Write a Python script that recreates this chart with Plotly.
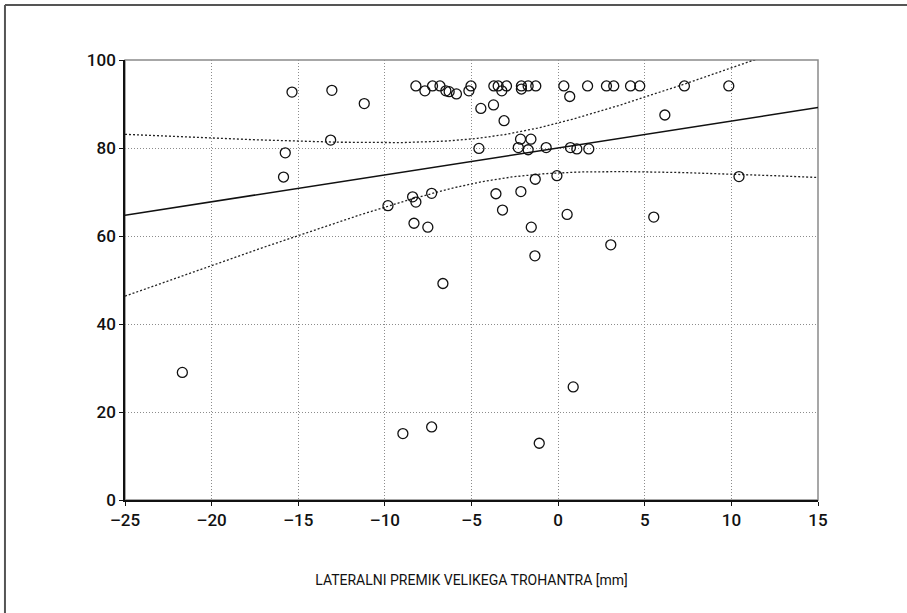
import numpy as np
import plotly.graph_objects as go

# Data
x_mm = [-21.69, -15.85, -15.75, -15.36, -13.13, -13.06, -11.19, -9.82, -8.96, -8.40,
        -8.32, -8.21, -8.21, -7.69, -7.52, -7.30, -7.30, -7.25, -6.82, -6.65,
        -6.48, -6.29, -5.87, -5.15, -5.03, -4.57, -4.46, -3.73, -3.71, -3.59,
        -3.46, -3.25, -3.21, -3.12, -2.98, -2.30, -2.17, -2.15, -2.12, -2.12,
        -1.73, -1.73, -1.57, -1.55, -1.34, -1.32, -1.29, -1.09, -0.69, -0.07,
        0.33, 0.52, 0.67, 0.71, 0.87, 1.08, 1.70, 1.77, 2.79, 3.04,
        3.21, 4.18, 4.71, 5.52, 6.16, 7.29, 9.85, 10.44]
y_val = [29.0, 73.4, 78.9, 92.7, 81.8, 93.1, 90.1, 66.9, 15.1, 68.9,
         62.9, 67.7, 94.1, 93.0, 62.0, 69.7, 16.6, 94.1, 94.1, 49.2,
         93.0, 92.8, 92.3, 93.0, 94.1, 79.9, 89.0, 89.8, 94.1, 69.6,
         94.1, 93.0, 65.9, 86.2, 94.1, 80.1, 82.0, 70.1, 94.1, 93.4,
         94.1, 79.6, 82.0, 62.0, 55.5, 72.9, 94.1, 12.9, 80.1, 73.7,
         94.1, 64.9, 91.7, 80.1, 25.7, 79.8, 94.1, 79.8, 94.1, 58.0,
         94.1, 94.1, 94.1, 64.3, 87.5, 94.1, 94.1, 73.5]

x_ticks = [-25, -20, -15, -10, -5, 0, 5, 10, 15]
y_ticks = [0, 20, 40, 60, 80, 100]
x_title = "LATERALNI PREMIK VELIKEGA TROHANTRA [mm]"
T_CRIT = 1.997  # 95 % two-sided, df = n - 2

# Linear regression with 95 % confidence band for the mean
x = np.array(x_mm)
y = np.array(y_val)
n = len(x)
slope, intercept = np.polyfit(x, y, 1)
resid = y - (intercept + slope * x)
s = np.sqrt(np.sum(resid ** 2) / (n - 2))
sxx = np.sum((x - x.mean()) ** 2)
xg = np.linspace(x_ticks[0], x_ticks[-1], 300)
yg = intercept + slope * xg
half = T_CRIT * s * np.sqrt(1.0 / n + (xg - x.mean()) ** 2 / sxx)

FONT = "Roboto, Liberation Sans, sans-serif"

fig = go.Figure()
fig.add_trace(go.Scatter(x=xg, y=yg + half, mode="lines",
                         line=dict(color="#222", width=1.3, dash="2px,2px"), hoverinfo="skip"))
fig.add_trace(go.Scatter(x=xg, y=yg - half, mode="lines",
                         line=dict(color="#222", width=1.3, dash="2px,2px"), hoverinfo="skip"))
fig.add_trace(go.Scatter(x=xg, y=yg, mode="lines",
                         line=dict(color="#111", width=1.5), hoverinfo="skip"))
fig.add_trace(go.Scatter(x=x_mm, y=y_val, mode="markers",
                         marker=dict(symbol="circle-open", size=10, color="#111",
                                     line=dict(width=1.3, color="#111"))))

fig.update_layout(
    width=907, height=613,
    margin=dict(l=125, r=89, t=60, b=113),
    paper_bgcolor="white", plot_bgcolor="white",
    showlegend=False,
    font=dict(family=FONT, color="#111"),
    xaxis=dict(range=[-25, 15], tickvals=x_ticks,
               ticktext=[("\u2013" + str(abs(v))) if v < 0 else str(v) for v in x_ticks],
               showline=True, linecolor="#111", linewidth=1.5,
               ticks="outside", ticklen=4, tickcolor="#111",
               showgrid=True, gridcolor="#8c8c8c", griddash="1px,2px", gridwidth=1,
               zeroline=False, tickfont=dict(size=17, family=FONT, weight=500),
               title=dict(text=x_title, font=dict(size=14, family=FONT), standoff=46)),
    yaxis=dict(range=[0, 100], tickvals=y_ticks,
               showline=True, linecolor="#111", linewidth=1.5,
               ticks="outside", ticklen=4, tickcolor="#111",
               showgrid=True, gridcolor="#8c8c8c", griddash="1px,2px", gridwidth=1,
               zeroline=False, tickfont=dict(size=17, family=FONT, weight=500)),
    shapes=[
        dict(type="rect", xref="paper", yref="paper", x0=0, x1=1, y0=0, y1=1,
             line=dict(color="#8a8a8a", width=1.5), layer="below"),
        dict(type="line", xref="paper", yref="paper", x0=-0.1732, x1=1.2, y0=1.125, y1=1.125,
             line=dict(color="#555", width=2)),
        dict(type="line", xref="paper", yref="paper", x0=-0.1732, x1=-0.1732, y0=1.125, y1=-0.3,
             line=dict(color="#555", width=2)),
    ],
)

# remove the browser's default 8 px body margin so the figure starts at the page corner
fig.write_html("out.html", config={"displayModeBar": False},
               post_script="document.body.style.margin='0';")
